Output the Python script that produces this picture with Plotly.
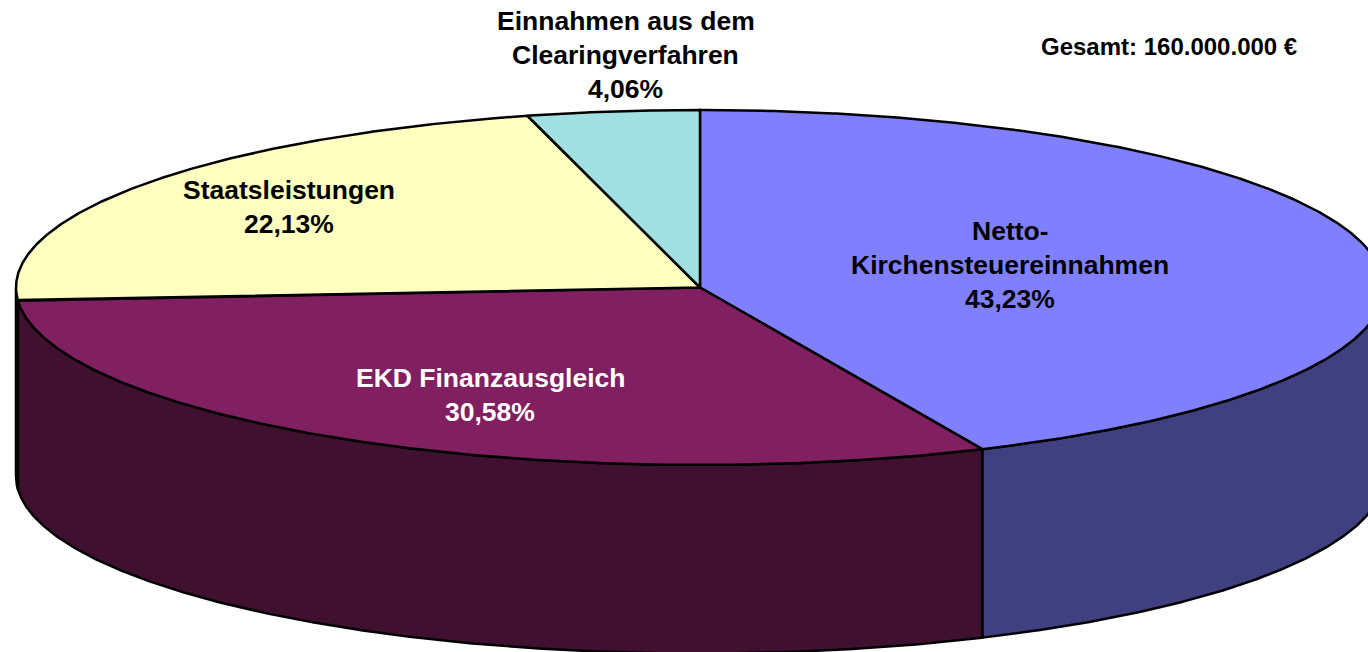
import numpy as np
import plotly.graph_objects as go

categories = ["Netto-Kirchensteuereinnahmen", "EKD Finanzausgleich", "Staatsleistungen", "Einnahmen aus dem Clearingverfahren"]
shares = [43.23, 30.58, 22.13, 4.06]
top_colors = ["#8080FF", "#802060", "#FFFFC0", "#A0E0E0"]
side_colors = ["#404080", "#401030", "#808060", "#507070"]
label_lines = [
    ["Netto-", "Kirchensteuereinnahmen", "43,23%"],
    ["EKD Finanzausgleich", "30,58%"],
    ["Staatsleistungen", "22,13%"],
    ["Einnahmen aus dem", "Clearingverfahren", "4,06%"],
]
label_centers = [(1010, 231), (490, 378), (289, 190), (625.5, 21)]
label_colors = ["black", "white", "black", "black"]
total_text = "Gesamt: 160.000.000 €"

W, H = 1368, 652
CX, CY, RX, RY, DEPTH = 700, 287.5, 684, 177.5, 188.5
LINE_STEP = 34
LW = 2.5


def rim(a0, a1):
    """Ellipse rim between two clockwise-from-top angles (radians)."""
    n = max(2, int(abs(a1 - a0) * 240))
    t = np.linspace(a0, a1, n)
    return CX + RX * np.sin(t), CY + RY * -np.cos(t)


fig = go.Figure()
edges = np.concatenate([[0], np.cumsum(shares)]) / np.sum(shares) * 2 * np.pi

# side walls: only the part of the rim on the front half is visible
for i in range(len(shares)):
    a0, a1 = max(edges[i], np.pi / 2), min(edges[i + 1], 3 * np.pi / 2)
    if a1 <= a0:
        continue
    x, y = rim(a0, a1)
    fig.add_trace(go.Scatter(
        x=np.concatenate([x, x[::-1], x[:1]]),
        y=np.concatenate([y, y[::-1] + DEPTH, y[:1]]),
        mode="lines", fill="toself", fillcolor=side_colors[i],
        line=dict(color="black", width=LW), hoverinfo="skip", showlegend=False,
    ))

# top faces
for i in range(len(shares)):
    x, y = rim(edges[i], edges[i + 1])
    fig.add_trace(go.Scatter(
        x=np.concatenate([[CX], x, [CX]]),
        y=np.concatenate([[CY], y, [CY]]),
        mode="lines", fill="toself", fillcolor=top_colors[i],
        line=dict(color="black", width=LW), name=categories[i],
        hoverinfo="name", showlegend=False,
    ))

annotations = []
for lines, (cx, y0), color in zip(label_lines, label_centers, label_colors):
    for j, text in enumerate(lines):
        annotations.append(dict(
            x=cx, y=y0 + j * LINE_STEP, text=text, showarrow=False,
            xanchor="center", yanchor="middle",
            font=dict(family="Liberation Sans", size=26.5, color=color, weight="bold"),
        ))
annotations.append(dict(
    x=1298.5, y=46, text=total_text, showarrow=False, xanchor="right", yanchor="middle",
    font=dict(family="Liberation Sans", size=24, color="black", weight="bold"),
))

fig.update_layout(
    width=W, height=H, margin=dict(l=0, r=0, t=0, b=0),
    paper_bgcolor="white", plot_bgcolor="white", annotations=annotations,
    xaxis=dict(range=[0, W], visible=False, fixedrange=True),
    yaxis=dict(range=[H, 0], visible=False, fixedrange=True),
)
fig.write_html(
    "out.html",
    config={"displayModeBar": False},
    post_script="document.body.style.margin='0';document.documentElement.style.overflow='hidden';",
)
